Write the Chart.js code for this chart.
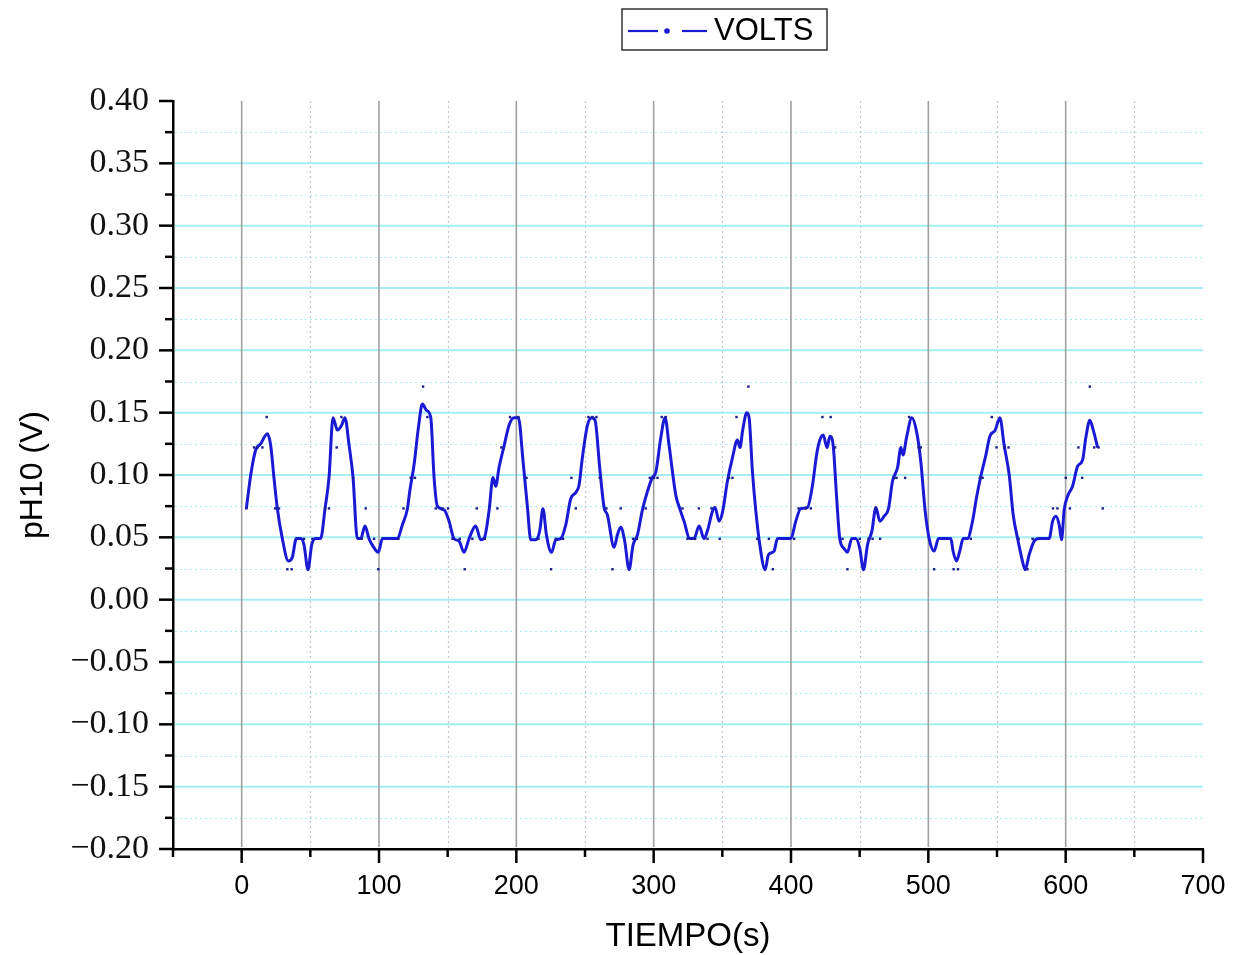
<!DOCTYPE html>
<html><head><meta charset="utf-8">
<script src="https://cdn.jsdelivr.net/npm/chart.js@4"></script>
<style>html,body{margin:0;padding:0;background:#fff;}#wrap{width:1243px;height:955px;position:relative}</style>
</head><body><div id="wrap"><canvas id="c" width="1243" height="955"></canvas></div>
<script>
const seriesName = 'VOLTS';
const xTitle = 'TIEMPO(s)';
const yTitle = 'pH10 (V)';
const xMin = -50, xMax = 700, yMin = -0.20, yMax = 0.40;
const xTickValues = [0, 100, 200, 300, 400, 500, 600, 700];
const xMinorValues = [-50, 50, 150, 250, 350, 450, 550, 650];
const yTickValues = [-0.20, -0.15, -0.10, -0.05, 0.00, 0.05, 0.10, 0.15, 0.20, 0.25, 0.30, 0.35, 0.40];
const yMinorValues = [-0.175, -0.125, -0.075, -0.025, 0.025, 0.075, 0.125, 0.175, 0.225, 0.275, 0.325, 0.375];

// smoothed curve
const lineTime = [3.4,6.6,10.2,13.8,18.7,21.1,23.5,26.0,29.6,34.0,36.9,39.8,43.0,45.4,48.3,51.0,53.9,57.5,60.7,63.6,66.5,69.7,72.8,75.2,78.2,81.1,84.2,86.7,89.8,92.7,95.6,99.5,102.5,113.4,117.0,120.7,122.4,125.5,128.7,131.6,134.5,137.7,140.1,142.5,147.4,151.0,154.6,158.3,161.9,165.6,170.4,174.1,176.5,180.1,183.0,185.0,187.4,191.0,194.7,198.3,201.5,204.9,208.1,210.5,214.1,217.0,219.4,221.9,225.6,228.7,232.3,236.0,239.6,243.3,245.7,248.1,251.8,254.9,257.3,260.7,263.9,266.3,271.2,273.6,276.0,278.9,282.1,285.0,288.2,291.8,295.5,299.1,301.5,305.2,308.3,311.2,316.1,319.0,322.1,326.3,329.4,333.1,336.7,339.6,342.8,344.7,347.6,350.1,353.7,357.4,361.0,362.9,364.7,367.8,369.5,371.9,374.4,377.3,381.1,383.6,387.7,390.1,399.9,403.5,407.1,412.0,415.7,418.6,421.0,423.4,426.3,428.3,430.7,433.1,435.5,438.7,441.1,444.3,447.2,450.1,452.8,455.7,458.9,461.8,464.7,467.8,471.0,473.9,477.6,480.0,481.6,484.1,488.0,491.4,494.5,497.7,500.6,504.2,507.4,516.4,518.0,520.5,522.9,525.4,528.5,532.2,535.1,538.2,541.9,544.8,548.7,552.1,555.2,558.9,561.8,565.0,568.1,570.5,573.4,577.1,580.7,588.0,590.5,592.9,595.3,597.0,598.9,601.4,605.0,608.7,612.3,614.7,617.6,620.1,623.3];
const lineVolt = [0.073,0.100,0.120,0.125,0.133,0.124,0.098,0.073,0.049,0.031,0.034,0.049,0.049,0.044,0.024,0.044,0.049,0.049,0.073,0.098,0.146,0.136,0.140,0.146,0.124,0.098,0.049,0.049,0.059,0.049,0.043,0.038,0.049,0.049,0.060,0.073,0.087,0.108,0.138,0.157,0.152,0.146,0.098,0.075,0.072,0.063,0.049,0.047,0.038,0.049,0.059,0.048,0.049,0.071,0.098,0.091,0.106,0.123,0.140,0.146,0.146,0.111,0.074,0.048,0.048,0.055,0.073,0.052,0.038,0.048,0.049,0.060,0.081,0.086,0.092,0.114,0.140,0.146,0.144,0.106,0.074,0.068,0.042,0.052,0.058,0.047,0.024,0.044,0.052,0.072,0.087,0.098,0.102,0.130,0.146,0.124,0.084,0.073,0.063,0.049,0.049,0.059,0.049,0.057,0.071,0.074,0.063,0.070,0.095,0.114,0.128,0.122,0.135,0.150,0.146,0.103,0.071,0.044,0.024,0.036,0.039,0.049,0.049,0.063,0.073,0.074,0.092,0.116,0.128,0.132,0.122,0.131,0.124,0.084,0.049,0.041,0.038,0.049,0.049,0.041,0.024,0.044,0.055,0.074,0.063,0.067,0.073,0.095,0.106,0.122,0.116,0.130,0.146,0.135,0.111,0.071,0.049,0.039,0.049,0.049,0.039,0.031,0.039,0.049,0.049,0.063,0.082,0.099,0.116,0.131,0.136,0.146,0.124,0.100,0.068,0.049,0.033,0.024,0.036,0.047,0.049,0.049,0.063,0.067,0.060,0.048,0.072,0.083,0.091,0.107,0.112,0.130,0.144,0.136,0.122];

// raw samples (dots)
const dotTime = [3.4,9.0,11.4,15.1,18.2,24.3,27.2,33.3,36.4,45.4,51.5,60.7,63.6,69.2,72.6,81.1,87.4,90.3,96.4,99.5,114.1,117.8,123.1,126.2,132.1,135.2,141.3,146.2,150.3,153.5,158.8,162.4,168.0,171.2,177.0,186.2,189.1,195.4,201.5,207.4,216.1,225.3,228.7,234.0,240.1,243.3,252.5,255.4,258.3,260.7,265.6,270.0,276.0,285.0,287.7,294.2,297.2,300.3,302.8,305.9,308.8,321.0,324.6,327.7,330.2,332.9,339.2,342.1,348.1,354.9,357.4,360.3,369.0,375.4,383.9,386.8,402.3,405.5,410.8,414.4,422.9,428.9,432.1,437.5,441.1,450.1,456.4,459.4,461.8,464.9,475.1,476.8,483.1,486.0,492.9,494.5,504.2,518.4,521.6,530.9,537.5,539.5,546.2,549.7,555.2,558.4,565.7,572.2,575.9,590.8,594.0,600.1,603.1,609.3,612.0,617.6,620.8,624.0,627.0];
const dotVolt = [0.0732,0.1221,0.1221,0.1221,0.1465,0.0732,0.0732,0.0244,0.0244,0.0488,0.0488,0.0732,0.0732,0.1221,0.1465,0.0977,0.0488,0.0732,0.0488,0.0244,0.0488,0.0732,0.0977,0.0977,0.1709,0.1465,0.0732,0.0732,0.0732,0.0488,0.0488,0.0244,0.0488,0.0732,0.0488,0.0732,0.1221,0.1465,0.1465,0.0977,0.0488,0.0244,0.0488,0.0488,0.0977,0.0732,0.1465,0.1465,0.1465,0.0977,0.0732,0.0244,0.0732,0.0488,0.0488,0.0732,0.0977,0.0977,0.0977,0.1465,0.1465,0.0732,0.0488,0.0488,0.0488,0.0732,0.0488,0.0732,0.0488,0.0977,0.0977,0.1465,0.1709,0.0488,0.0488,0.0244,0.0488,0.0732,0.0732,0.0732,0.1465,0.1465,0.1221,0.0488,0.0244,0.0488,0.0488,0.0488,0.0732,0.0488,0.0977,0.0977,0.0977,0.1465,0.1221,0.1221,0.0244,0.0244,0.0244,0.0488,0.0977,0.0977,0.1465,0.1221,0.1221,0.1221,0.0488,0.0244,0.0488,0.0732,0.0732,0.0977,0.0732,0.1221,0.0977,0.1709,0.1221,0.1221,0.0732];

const lineColor = '#1a1ad4';
const dotColor = '#1c1c8c';

const gridPlugin = {
  id: 'gridPlugin',
  beforeDatasetsDraw(chart) {
    const {ctx, chartArea: a, scales: {x, y}} = chart;
    ctx.save();
    ctx.beginPath(); ctx.rect(a.left, a.top, a.right - a.left, a.bottom - a.top); ctx.clip();
    ctx.strokeStyle = '#a8eef4'; ctx.lineWidth = 1.2; ctx.setLineDash([2, 3]);
    yMinorValues.forEach(v => { const p = Math.round(y.getPixelForValue(v)) + 0.5; ctx.beginPath(); ctx.moveTo(a.left + 2, p); ctx.lineTo(a.right, p); ctx.stroke(); });
    ctx.strokeStyle = '#c4c4c4';
    xMinorValues.forEach(v => { if (v <= xMin) return; const p = Math.round(x.getPixelForValue(v)) + 0.5; ctx.beginPath(); ctx.moveTo(p, a.top); ctx.lineTo(p, a.bottom - 2); ctx.stroke(); });
    ctx.setLineDash([]);
    ctx.strokeStyle = '#a4eef5'; ctx.lineWidth = 2;
    yTickValues.forEach(v => { if (v <= yMin || v >= yMax) return; const p = y.getPixelForValue(v); ctx.beginPath(); ctx.moveTo(a.left + 2, p); ctx.lineTo(a.right, p); ctx.stroke(); });
    ctx.strokeStyle = '#a0a0a0'; ctx.lineWidth = 1.6;
    xTickValues.forEach(v => { if (v <= xMin || v >= xMax) return; const p = x.getPixelForValue(v); ctx.beginPath(); ctx.moveTo(p, a.top); ctx.lineTo(p, a.bottom - 2); ctx.stroke(); });
    ctx.restore();
  },
  afterDraw(chart) {
    const {ctx, chartArea: a, scales: {x, y}} = chart;
    ctx.save();
    ctx.strokeStyle = '#000'; ctx.lineWidth = 2.5;
    const tick = (x1, y1, x2, y2) => { ctx.beginPath(); ctx.moveTo(x1, y1); ctx.lineTo(x2, y2); ctx.stroke(); };
    yTickValues.forEach(v => { const p = y.getPixelForValue(v); tick(a.left - 14, p, a.left, p); });
    yMinorValues.forEach(v => { const p = y.getPixelForValue(v); tick(a.left - 8, p, a.left, p); });
    xTickValues.forEach(v => { const p = x.getPixelForValue(v); tick(p, a.bottom, p, a.bottom + 14); });
    xMinorValues.forEach(v => { const p = x.getPixelForValue(v); tick(p, a.bottom, p, a.bottom + 8); });
    // legend
    ctx.lineWidth = 1.5; ctx.strokeStyle = '#333';
    ctx.strokeRect(622, 9, 205, 41);
    ctx.strokeStyle = lineColor; ctx.lineWidth = 2.2;
    tick(628, 31, 658, 31); tick(682, 31, 707, 31);
    ctx.fillStyle = lineColor; ctx.beginPath(); ctx.arc(667, 31, 2.8, 0, Math.PI * 2); ctx.fill();
    ctx.fillStyle = '#000'; ctx.font = '31px "Liberation Sans", Arial, sans-serif'; ctx.textBaseline = 'middle'; ctx.textAlign = 'left';
    ctx.fillText(seriesName, 714, 31);
    ctx.restore();
  }
};

const fmtY = v => (v < -1e-9 ? '\u2212' : '') + Math.abs(v).toFixed(2);

new Chart(document.getElementById('c'), {
  type: 'scatter',
  data: {
    datasets: [
      { label: seriesName + ' samples', data: dotTime.map((t, i) => ({x: t, y: dotVolt[i]})), showLine: false,
        pointStyle: 'rect', pointRadius: 1.7, backgroundColor: dotColor, borderWidth: 0, order: 0 },
      { label: seriesName, data: lineTime.map((t, i) => ({x: t, y: lineVolt[i]})), showLine: true,
        pointRadius: 0, borderColor: lineColor, borderWidth: 3, cubicInterpolationMode: 'monotone', order: 1 }
    ]
  },
  options: {
    responsive: false, animation: false, devicePixelRatio: 1,
    layout: { padding: { top: 101, right: 40, left: 0, bottom: 0 } },
    plugins: { legend: { display: false }, tooltip: { enabled: false } },
    scales: {
      x: {
        type: 'linear', position: 'bottom', min: xMin, max: xMax,
        afterBuildTicks: s => { s.ticks = xTickValues.map(v => ({value: v})); },
        afterFit: s => { s.height = 106; s.paddingLeft = 0; s.paddingRight = 0; },
        grid: { display: false, drawTicks: false },
        border: { display: true, color: '#000', width: 2.5 },
        ticks: { font: { family: '"Liberation Sans", Arial, sans-serif', size: 27 }, color: '#000', padding: 21, maxRotation: 0, autoSkip: false },
        title: { display: true, text: xTitle, color: '#000', font: { family: '"Liberation Sans", Arial, sans-serif', size: 33, lineHeight: 1.0 }, padding: { top: 0, bottom: 2 } }
      },
      y: {
        type: 'linear', position: 'left', min: yMin, max: yMax,
        afterBuildTicks: s => { s.ticks = yTickValues.map(v => ({value: v})); },
        afterFit: s => { s.width = 173; s.paddingTop = 0; s.paddingBottom = 0; },
        grid: { display: false, drawTicks: false },
        border: { display: true, color: '#000', width: 2.5 },
        ticks: { font: { family: '"Liberation Serif", "Times New Roman", serif', size: 34 }, color: '#111', padding: 24, callback: v => fmtY(v) },
        title: { display: true, text: yTitle, color: '#000', font: { family: '"Liberation Sans", Arial, sans-serif', size: 32, lineHeight: 1.0 }, padding: { top: 17, bottom: 0 } }
      }
    }
  },
  plugins: [gridPlugin]
});
</script></body></html>
